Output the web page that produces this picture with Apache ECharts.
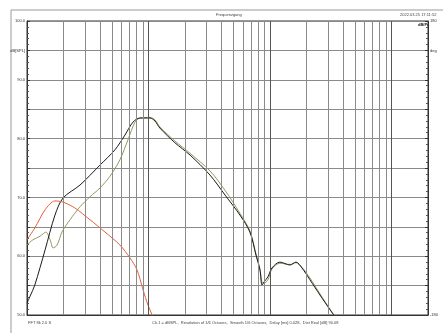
<!DOCTYPE html>
<html>
<head>
<meta charset="utf-8">
<script src="https://cdn.jsdelivr.net/npm/echarts@6/dist/echarts.min.js"></script>
<style>
  html, body { margin: 0; padding: 0; background: #fff; }
  #chart { width: 443px; height: 333px; }
</style>
</head>
<body>
<div id="chart"></div>
<script>
// frequency [Hz] / level [dB]
var freqBlack = [10, 10.6, 11.6, 14.1, 17, 19.8, 27.3, 39.9, 53, 64, 74.5, 85, 103, 113, 124, 165, 220, 321, 427, 566, 684, 767, 827, 860, 893, 963, 1038, 1208, 1461, 1638, 1834, 2132, 2580, 3120, 3494];
var splBlack = [52.0, 53.2, 55.1, 61.1, 67.0, 69.9, 72.1, 75.5, 78.1, 80.6, 82.8, 83.5, 83.5, 83.0, 81.8, 79.3, 77.2, 73.8, 70.4, 67.0, 64.1, 60.2, 57.7, 55.1, 55.6, 56.5, 58.0, 59.0, 58.5, 59.0, 58.0, 56.0, 53.4, 50.9, 49.5];

var freqGreen = [10, 11.2, 12.8, 14.3, 15.5, 16.4, 17.7, 19.4, 22.6, 27.3, 33, 39.9, 48.2, 58.2, 67.8, 77.4, 85, 103, 113, 124, 165, 220, 321, 427, 566, 684, 767, 827, 860, 893, 963, 1038, 1208, 1461, 1638, 1834, 2132, 2580, 3120, 3494];
var splGreen = [61.9, 62.8, 63.4, 64.1, 62.8, 61.4, 61.9, 64.1, 66.2, 68.4, 70.1, 71.6, 73.6, 76.4, 79.8, 82.8, 83.5, 83.6, 83.2, 82.0, 79.6, 77.5, 74.5, 71.2, 67.3, 64.3, 60.4, 57.8, 55.6, 55.4, 56.0, 57.8, 58.8, 58.6, 58.9, 58.1, 56.3, 53.6, 51.0, 49.5];

var freqRed = [10, 11.6, 14.1, 17, 19.8, 24.8, 33, 43.9, 58.2, 70.4, 80.4, 90.2, 99, 107, 112];
var splRed = [62.8, 64.8, 67.9, 69.4, 69.2, 68.2, 66.2, 64.1, 61.9, 59.7, 57.7, 54.3, 51.7, 50.0, 48.5];

// log grid lines and the labelled ones
var gridFreqs = [20, 30, 40, 50, 60, 70, 80, 90, 100, 200, 300, 400, 500, 600, 700, 800, 900, 1000, 2000, 3000, 4000, 5000, 6000, 7000, 8000, 9000, 10000];
var decadeFreqs = [100, 1000, 10000];
var xLabels = { 10: '10', 20: '20', 50: '50', 100: '100', 200: '200', 500: '500', 1000: '1k', 2000: '2k', 5000: '5k', 10000: '10k', 20000: '20k' };

var chart = echarts.init(document.getElementById('chart'));

function pairs(xs, ys) {
    var out = [];
    for (var i = 0; i < xs.length; i++) out.push([xs[i], ys[i]]);
    return out;
}

var gridLines = gridFreqs.map(function (f) {
    return {
        xAxis: f,
        lineStyle: { color: decadeFreqs.indexOf(f) >= 0 ? '#555' : '#8a8a8a' }
    };
});
var labelLines = Object.keys(xLabels).map(function (k) {
    return {
        xAxis: Number(k),
        lineStyle: { opacity: 0 },
        label: { show: true, position: 'start', formatter: xLabels[k], distance: 2, fontSize: 4, color: '#333' }
    };
});

var option = {
    animation: false,
    backgroundColor: '#fff',
    grid: {
        left: 27, top: 21, right: 15, bottom: 18,
        show: true, borderColor: '#333', borderWidth: 1
    },
    xAxis: {
        type: 'log', logBase: 10, min: 10, max: 20000,
        axisLine: { show: true, onZero: false, lineStyle: { color: '#333' } },
        axisTick: { show: false },
        axisLabel: { show: false },
        splitLine: { show: false }
    },
    yAxis: [{
        type: 'value', min: 50, max: 100, interval: 5,
        axisLine: { show: true, lineStyle: { color: '#333' } },
        axisTick: { show: true, inside: true, length: 3, lineStyle: { color: '#333' } },
        minorTick: { show: true, splitNumber: 5, length: 2, lineStyle: { color: '#555' } },
        axisLabel: {
            fontSize: 4, color: '#333', margin: 2,
            formatter: function (v) {
                if (v === 95) return 'dB[SPL]';
                return v % 10 === 0 ? v.toFixed(1) : '';
            }
        },
        splitLine: { show: true, lineStyle: { color: '#8a8a8a', width: 1 } }
    }, {
        type: 'value', min: -180, max: 180, interval: 36, position: 'right',
        axisLine: { show: true, onZero: false, lineStyle: { color: '#333' } },
        axisTick: { show: true, inside: true, length: 3, lineStyle: { color: '#333' } },
        minorTick: { show: true, splitNumber: 5, length: 2, lineStyle: { color: '#555' } },
        axisLabel: {
            fontSize: 4, color: '#333', margin: 2,
            formatter: function (v) {
                if (v === 180 || v === -180) return String(v);
                if (v === 144) return 'deg';
                return '';
            }
        },
        splitLine: { show: false }
    }],
    graphic: [
        { type: 'line', shape: { x1: 11, y1: 10, x2: 443, y2: 10 }, style: { stroke: '#999', lineWidth: 1 } },
        { type: 'line', shape: { x1: 11, y1: 10, x2: 11, y2: 333 }, style: { stroke: '#999', lineWidth: 1 } },
        { type: 'text', left: 216, top: 13, style: { text: 'Frequenzgang', fontSize: 4, fill: '#444' } },
        { type: 'text', left: 400, top: 13, style: { text: '2022.03.25 17:11:52', fontSize: 4, fill: '#444' } },
        { type: 'text', left: 418, top: 23, style: { text: 'dB/Pa', fontSize: 4, fontWeight: 'bold', fill: '#111' } },
        { type: 'text', left: 28, top: 321, style: { text: 'FFT 8k 2.0 S', fontSize: 4, fill: '#444' } },
        { type: 'text', left: 152, top: 321, style: { text: 'Ch.1 = dBSPL,  Resolution of 1/6 Octaves,  Smooth 1/6 Octaves,  Delay [ms] 0.028,  Dist Real [dB] 90.08', fontSize: 4, fill: '#444' } }
    ],
    series: [{
        type: 'line', data: [], silent: true,
        markLine: {
            silent: true, symbol: 'none', animation: false,
            label: { show: false },
            lineStyle: { type: 'solid', width: 1 },
            data: gridLines.concat(labelLines)
        }
    }, {
        name: 'green', type: 'line', data: pairs(freqGreen, splGreen),
        showSymbol: false, smooth: 0.3, clip: true,
        lineStyle: { color: '#8f9a5e', width: 1 }
    }, {
        name: 'black', type: 'line', data: pairs(freqBlack, splBlack),
        showSymbol: false, smooth: 0.3, clip: true,
        lineStyle: { color: '#1a1a1a', width: 1 }
    }, {
        name: 'red', type: 'line', data: pairs(freqRed, splRed),
        showSymbol: false, smooth: 0.3, clip: true,
        lineStyle: { color: '#e2603a', width: 1 }
    }]
};
chart.setOption(option);
</script>
</body>
</html>
